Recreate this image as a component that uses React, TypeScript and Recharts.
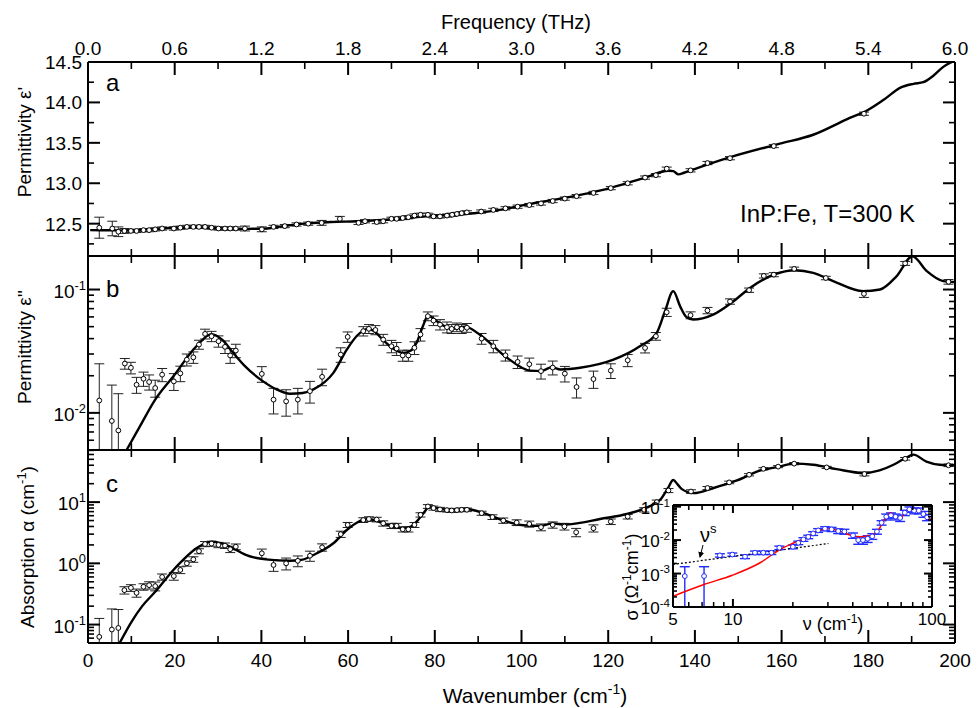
import React from 'react';
import { ComposedChart, Line, Scatter, XAxis, YAxis, ErrorBar } from 'recharts';

const FONT = '"Liberation Sans", Arial, Helvetica, sans-serif';
const W = 977;
const H = 708;

// ---------------- tick values ----------------
const wavenumberTicks = [0, 10, 20, 30, 40, 50, 60, 70, 80, 90, 100, 110, 120, 130, 140, 150, 160, 170, 180, 190, 200];
const wavenumberLabels = [0, 20, 40, 60, 80, 100, 120, 140, 160, 180, 200];
const thzPerWavenumber = 0.03;
const epsRealTicks = [12.25, 12.5, 12.75, 13, 13.25, 13.5, 13.75, 14, 14.25, 14.5];
const epsRealLabels = [12.5, 13, 13.5, 14, 14.5];
const epsImagTicks = [0.005, 0.006, 0.007, 0.008, 0.009, 0.01, 0.02, 0.03, 0.04, 0.05, 0.06, 0.07, 0.08, 0.09, 0.1];
const alphaTicks = [0.05, 0.06, 0.07, 0.08, 0.09, 0.1, 0.2, 0.3, 0.4, 0.5, 0.6, 0.7, 0.8, 0.9, 1, 2, 3, 4, 5, 6, 7, 8, 9, 10, 20, 30, 40, 50, 60, 70];
const sigmaTicks = [1e-4, 2e-4, 3e-4, 4e-4, 5e-4, 6e-4, 7e-4, 8e-4, 9e-4, 1e-3, 2e-3, 3e-3, 4e-3, 5e-3, 6e-3, 7e-3, 8e-3, 9e-3, 1e-2, 2e-2, 3e-2, 4e-2, 5e-2, 6e-2, 7e-2, 8e-2, 9e-2, 0.1];
const nuTicks = [5, 6, 7, 8, 9, 10, 20, 30, 40, 50, 60, 70, 80, 90, 100];
const nuLabels = [5, 10, 100];

// ---------------- panel a: permittivity eps' ----------------
// [wavenumber, value, error]
const pointsA: number[][] = [
  [2.6, 12.45, 0.13], [5.6, 12.44, 0.09], [7.0, 12.40, 0.06], [8.4, 12.41, 0.03], [9.9, 12.41, 0.02],
  [11.2, 12.41, 0.02], [12.8, 12.42, 0.02], [14.1, 12.42, 0.02], [15.5, 12.43, 0.02], [17.1, 12.44, 0.02],
  [19.8, 12.44, 0.02], [21.3, 12.45, 0.02], [22.8, 12.46, 0.02], [24.3, 12.46, 0.02], [25.6, 12.46, 0.02],
  [27.0, 12.46, 0.02], [28.5, 12.45, 0.02], [30.1, 12.44, 0.02], [31.6, 12.44, 0.02], [32.8, 12.44, 0.02],
  [34.1, 12.44, 0.02], [36.2, 12.44, 0.03], [40.1, 12.43, 0.03], [42.8, 12.46, 0.02], [45.4, 12.47, 0.02],
  [48.1, 12.49, 0.02], [50.8, 12.50, 0.02], [53.9, 12.51, 0.03], [58.1, 12.56, 0.03], [62.4, 12.51, 0.02],
  [63.9, 12.53, 0.02], [66.6, 12.52, 0.02], [68.1, 12.53, 0.02], [70.0, 12.56, 0.02], [71.2, 12.56, 0.02],
  [72.6, 12.57, 0.02], [73.9, 12.58, 0.02], [75.3, 12.60, 0.02], [76.7, 12.61, 0.02], [78.4, 12.61, 0.02],
  [79.7, 12.59, 0.02], [81.2, 12.59, 0.02], [82.8, 12.60, 0.02], [84.0, 12.61, 0.02], [85.1, 12.62, 0.02],
  [86.2, 12.63, 0.02], [87.4, 12.64, 0.02], [90.7, 12.65, 0.02], [93.5, 12.67, 0.02], [96.3, 12.69, 0.02],
  [99.1, 12.71, 0.02], [101.8, 12.73, 0.02], [104.5, 12.75, 0.02], [107.2, 12.78, 0.02], [110.0, 12.81, 0.02],
  [112.7, 12.84, 0.02], [116.6, 12.88, 0.02], [120.6, 12.94, 0.02], [124.5, 13.0, 0.02], [128.5, 13.07, 0.02],
  [131.0, 13.10, 0.02], [133.5, 13.18, 0.02], [139.0, 13.16, 0.02], [142.9, 13.25, 0.02], [148.1, 13.31, 0.02],
  [158.2, 13.46, 0.02], [179.0, 13.86, 0.02],
];
const fitA: number[][] = [
  [0.5, 12.42], [5, 12.418], [10, 12.415], [15, 12.43], [20, 12.45], [25, 12.455], [30, 12.445], [35, 12.435],
  [40, 12.437], [45, 12.47], [50, 12.5], [56, 12.52], [62, 12.53], [68, 12.545], [72, 12.56], [78, 12.59],
  [84, 12.61], [90, 12.635], [95, 12.67], [102, 12.745], [108, 12.8], [113.5, 12.856], [121, 12.95],
  [128.5, 13.07], [133.9, 13.155], [135, 13.15], [136.2, 13.11], [137.5, 13.13], [139.6, 13.17], [148, 13.32],
  [159.6, 13.49], [167.3, 13.6], [175, 13.79], [180, 13.91], [184, 14.05], [187.3, 14.18], [190.4, 14.23],
  [192.7, 14.25], [195, 14.33], [197.3, 14.44], [200, 14.52],
];

// ---------------- panel b: eps'' ----------------
// [wavenumber, value, lowerErr, upperErr?]
const pointsB: number[][] = [
  [2.6, 0.0126, 0.0076, 0.0124], [5.5, 0.0086, 0.0036, 0.0082], [7.0, 0.0072, 0.0022, 0.0071],
  [8.5, 0.0251, 0.0025], [9.9, 0.0232, 0.0025], [11.2, 0.0169, 0.0025], [12.8, 0.0189, 0.0025],
  [14.1, 0.0178, 0.0025], [15.5, 0.0159, 0.0025], [17.1, 0.0204, 0.0025], [19.8, 0.018, 0.0028],
  [21.3, 0.0209, 0.003], [22.8, 0.027, 0.003], [24.3, 0.0282, 0.003], [25.6, 0.0358, 0.003],
  [27.0, 0.0437, 0.004], [28.5, 0.0418, 0.004], [30.1, 0.0381, 0.004], [31.6, 0.0343, 0.004],
  [32.8, 0.0292, 0.004], [34.1, 0.032, 0.004], [40.1, 0.0207, 0.003], [42.8, 0.0128, 0.003],
  [45.7, 0.0124, 0.003], [48.4, 0.0128, 0.003], [51.2, 0.015, 0.003], [54.0, 0.0196, 0.003],
  [58.3, 0.0297, 0.004], [59.9, 0.0413, 0.004], [63.5, 0.046, 0.004], [64.8, 0.048, 0.004],
  [66.3, 0.047, 0.004], [68.1, 0.0393, 0.004], [70.0, 0.0347, 0.004], [71.2, 0.0332, 0.004],
  [72.6, 0.0292, 0.003], [73.9, 0.0292, 0.003], [75.3, 0.0337, 0.004], [76.7, 0.0432, 0.005],
  [78.4, 0.0608, 0.005], [79.7, 0.056, 0.005], [81.2, 0.052, 0.005], [82.8, 0.0495, 0.005],
  [83.9, 0.048, 0.004], [85.1, 0.0495, 0.004], [86.2, 0.048, 0.004], [87.4, 0.049, 0.004],
  [90.8, 0.040, 0.004], [93.5, 0.0347, 0.004], [96.3, 0.0293, 0.003], [99.1, 0.0259, 0.003],
  [101.8, 0.0248, 0.003], [104.5, 0.0218, 0.003], [107.2, 0.0233, 0.003], [110.0, 0.0208, 0.003],
  [112.7, 0.0162, 0.003], [116.6, 0.0188, 0.003], [120.6, 0.022, 0.003], [124.5, 0.0267, 0.003],
  [128.5, 0.0336, 0.003], [131.0, 0.0418, 0.003], [133.5, 0.0655, 0.005], [139.0, 0.0619, 0.004],
  [142.9, 0.0676, 0.004], [148.1, 0.080, 0.004], [152.5, 0.0988, 0.004], [155.9, 0.129, 0.005],
  [158.2, 0.132, 0.005], [162.9, 0.147, 0.005], [170.2, 0.124, 0.004], [179.0, 0.0923, 0.006],
  [188.5, 0.163, 0.006], [198.5, 0.1155, 0.005],
];
const fitB: number[][] = [
  [8.9, 0.005], [12, 0.0078], [15.5, 0.0128], [19.7, 0.0198], [25, 0.0347], [28.5, 0.0435], [31, 0.039],
  [33.5, 0.0306], [36.2, 0.0239], [40.4, 0.018], [43.5, 0.0155], [46.6, 0.0143], [49.5, 0.0145], [52, 0.0155],
  [56.6, 0.0211], [59.7, 0.0326], [62, 0.042], [64.5, 0.048], [66, 0.046], [68, 0.0393], [70.5, 0.033],
  [72.7, 0.0306], [74.5, 0.032], [75.8, 0.037], [77.2, 0.05], [78.5, 0.0616], [80, 0.057], [82, 0.051],
  [84, 0.048], [87, 0.05], [90.4, 0.043], [96.2, 0.0288], [102, 0.022], [104.5, 0.0218], [107, 0.0235],
  [109, 0.0225], [113.5, 0.0232], [121.2, 0.027], [127.3, 0.0347], [131.2, 0.0446], [133.1, 0.0667],
  [135, 0.097], [136.6, 0.073], [138, 0.06], [139.6, 0.057], [144.2, 0.0626], [148.9, 0.0804],
  [152.7, 0.103], [158.2, 0.132], [163.1, 0.1435], [167.3, 0.1365], [171.9, 0.117], [178.8, 0.097],
  [182.7, 0.1], [186.5, 0.128], [190.2, 0.186], [193.5, 0.141], [197.3, 0.117], [200, 0.115],
];

// ---------------- panel c: absorption alpha ----------------
const pointsC: number[][] = [
  [2.6, 0.063, 0.013, 0.063], [5.5, 0.083, 0.033, 0.097], [7.0, 0.088, 0.038, 0.088],
  [8.4, 0.365, 0.05], [9.9, 0.398, 0.05], [11.2, 0.33, 0.05], [12.8, 0.414, 0.05], [14.1, 0.44, 0.06],
  [15.5, 0.425, 0.07], [17.1, 0.6, 0.07], [19.8, 0.62, 0.09], [21.3, 0.78, 0.1], [22.8, 1.0, 0.1],
  [24.3, 1.16, 0.12], [25.6, 1.58, 0.15], [27.0, 2.07, 0.2], [28.5, 2.1, 0.2], [30.1, 2.0, 0.2],
  [31.6, 1.95, 0.2], [32.8, 1.7, 0.2], [34.1, 1.87, 0.2], [40.1, 1.46, 0.25], [42.8, 0.94, 0.2],
  [45.7, 1.0, 0.22], [48.4, 1.1, 0.22], [51.2, 1.33, 0.25], [54.0, 1.83, 0.25], [58.3, 3.0, 0.35],
  [59.9, 4.25, 0.4], [63.5, 5.1, 0.45], [64.8, 5.3, 0.45], [66.6, 5.2, 0.45], [68.1, 4.5, 0.45],
  [70.0, 4.1, 0.4], [71.2, 4.1, 0.4], [72.6, 3.6, 0.35], [73.9, 3.6, 0.35], [75.3, 4.25, 0.4],
  [76.7, 6.2, 0.5], [78.4, 8.5, 0.6], [79.7, 8.0, 0.6], [81.2, 7.6, 0.6], [82.8, 7.4, 0.5],
  [83.9, 7.3, 0.5], [85.1, 7.4, 0.5], [86.2, 7.5, 0.5], [87.4, 7.5, 0.5], [90.8, 6.6, 0.5],
  [93.3, 5.7, 0.5], [95.8, 5.0, 0.5], [98.9, 4.64, 0.5], [101.8, 4.4, 0.5], [104.5, 3.9, 0.5],
  [107.2, 4.25, 0.5], [109.9, 4.0, 0.5], [112.6, 3.22, 0.5], [116.6, 3.75, 0.5], [120.6, 4.8, 0.5],
  [124.5, 5.8, 0.5], [128.3, 7.5, 0.6], [131.2, 10, 0.8], [133.9, 15.5, 1.2], [139.1, 14.9, 1.0],
  [142.9, 17, 1.0], [147.9, 21, 1.0], [152.5, 28, 1.2], [155.8, 35, 1.5], [159.2, 38, 1.5],
  [162.9, 42.5, 1.8], [170.4, 36.9, 1.5], [179.1, 28.8, 2], [188.5, 51, 2.5], [198.5, 40, 2],
];
const fitC: number[][] = [
  [7.3, 0.05], [10, 0.11], [12.5, 0.2], [15.5, 0.343], [19.7, 0.78], [22, 1.15], [25, 1.76], [28.5, 2.26],
  [31, 2.1], [33.5, 1.76], [36.4, 1.37], [41, 1.16], [46.6, 1.1], [49.5, 1.15], [52, 1.37], [56.6, 2.13],
  [59.7, 3.5], [62, 4.6], [64.3, 5.3], [66, 5.1], [68.1, 4.5], [70.5, 3.95], [72.7, 3.75], [74.5, 4.0],
  [75.8, 4.8], [77.3, 6.5], [78.9, 8.5], [80.5, 8.0], [82.5, 7.5], [84.5, 7.5], [86.9, 7.8], [88.5, 7.5],
  [90.8, 6.8], [95.8, 5.0], [101.2, 4.14], [104.3, 4.1], [107.2, 4.5], [109.9, 4.3], [112.8, 4.5],
  [118.1, 5.3], [124.3, 6.4], [128.9, 8.2], [132.3, 11.6], [133.8, 17], [135, 23], [136, 19.5], [137, 16.3],
  [139.7, 14], [144.3, 17], [149.7, 22.6], [155, 32.6], [159.5, 38], [162.7, 42.5], [167.3, 40.8],
  [172.7, 34.6], [178.8, 29.9], [182.6, 33], [185.8, 40.8], [188.5, 52], [190.4, 59.6], [193.4, 46],
  [196.5, 40.8], [200, 40],
];

// ---------------- inset: conductivity sigma vs nu ----------------
const pointsSigma: number[][] = [
  [5.73, 8.4e-4, 7.4e-4, 7.6e-4], [7.16, 8.4e-4, 7.4e-4, 7.6e-4], [8.6, 3.5e-3, 4e-4], [9.93, 3.7e-3, 4e-4],
  [11.5, 3.2e-3, 4e-4], [12.9, 4.2e-3, 5e-4], [14.2, 4.2e-3, 5e-4], [15.6, 4.2e-3, 5e-4], [17.1, 5.9e-3, 7e-4],
  [20, 6.3e-3, 8e-4], [21.3, 8.3e-3, 1e-3], [22.6, 1.05e-2, 1.3e-3], [23.9, 1.25e-2, 1.5e-3],
  [25.3, 1.58e-2, 2e-3], [26.8, 1.95e-2, 2.5e-3], [29, 2.2e-2, 3e-3], [31.3, 2.1e-2, 3e-3],
  [33.8, 1.86e-2, 3e-3], [36.3, 1.8e-2, 3e-3], [40.1, 1.38e-2, 2.5e-3], [42.6, 1.0e-2, 2.5e-3],
  [45, 1.0e-2, 2.5e-3], [47.5, 1.1e-2, 2.5e-3], [50.1, 1.3e-2, 2.5e-3], [52.9, 1.8e-2, 3e-3],
  [55.8, 3.3e-2, 5e-3], [58.9, 5e-2, 1e-2], [62.2, 5.5e-2, 1e-2], [65.6, 5e-2, 1e-2], [69.2, 4.6e-2, 1e-2],
  [73, 6.6e-2, 1.2e-2], [77, 8.3e-2, 1.5e-2], [81.3, 7.6e-2, 1.5e-2], [85.8, 7.6e-2, 1.5e-2],
  [90.5, 6e-2, 1.2e-2], [94.5, 4.8e-2, 1e-2],
];
const fitSigma: number[][] = [
  [5, 2.1e-4], [7.16, 4.7e-4], [9.93, 8.9e-4], [13.7, 2.1e-3], [17.3, 5.3e-3], [20.3, 8.3e-3], [23.6, 1.25e-2],
  [26.3, 1.8e-2], [29.4, 2.2e-2], [33, 2e-2], [39, 1.4e-2], [43.3, 1.25e-2], [48.5, 1.35e-2], [53.8, 2e-2],
  [57.8, 4.2e-2], [61.8, 6.6e-2], [65.6, 5e-2], [69.2, 4.5e-2], [73, 6.6e-2], [76.5, 8.4e-2], [79.8, 7.3e-2],
  [83.3, 8.5e-2], [88.9, 6.9e-2], [94.5, 4.8e-2], [100, 4.2e-2],
];
const powerLawSigma: number[][] = [[5, 1.87e-3], [30.2, 7.9e-3]];

// ---------------- table builders ----------------
const toLine = (arr: number[][]) => arr.map(([x, y]) => ({ x, y }));
const toPoints = (arr: number[][]) =>
  arr.map(([x, y, lo, hi]) => ({ x, y, err: [lo, hi === undefined ? lo : hi] }));

// ---------------- tick rendering ----------------
type Side = 'bottom' | 'top' | 'left' | 'right';
const near = (a: number, b: number) => Math.abs(a - b) < 1e-9 * Math.max(1, Math.abs(b));
const inList = (list: number[]) => (v: number) => list.some((t) => near(v, t));
const isDecade = (v: number) => Math.abs(Math.log10(v) - Math.round(Math.log10(v))) < 1e-6;

function makeTick(
  side: Side,
  isMajor: (v: number) => boolean,
  majorLen: number,
  minorLen: number,
  label?: (v: number, x: number, y: number) => React.ReactNode,
) {
  return (props: any) => {
    const { x, y, payload } = props;
    const v = payload.value;
    const major = isMajor(v);
    const len = major ? majorLen : minorLen;
    let x2 = x;
    let y2 = y;
    if (side === 'bottom') y2 = y - len;
    else if (side === 'top') y2 = y + len;
    else if (side === 'left') x2 = x + len;
    else x2 = x - len;
    return (
      <g>
        <line x1={x} y1={y} x2={x2} y2={y2} stroke="#000" strokeWidth={major ? 2 : 1.6} />
        {label && major ? label(v, x, y) : null}
      </g>
    );
  };
}

const txt = (x: number, y: number, s: React.ReactNode, anchor: string, size: number) => (
  <text x={x} y={y} textAnchor={anchor as any} fontFamily={FONT} fontSize={size} fill="#000">
    {s}
  </text>
);
const logLabel = (x: number, y: number, v: number, size: number) => (
  <text x={x} y={y} textAnchor="end" fontFamily={FONT} fontSize={size} fill="#000">
    10
    <tspan dy={-size * 0.42} fontSize={size * 0.68}>
      {String(Math.round(Math.log10(v)))}
    </tspan>
  </text>
);

const isWnMajor = inList(wavenumberLabels);
const bottomTickLabeled = makeTick('bottom', isWnMajor, 13, 7, (v, x, y) => txt(x, y + 24, String(v), 'middle', 19));
const bottomTickPlain = makeTick('bottom', isWnMajor, 13, 7);
const topTickLabeled = makeTick('top', isWnMajor, 13, 7, (v, x, y) =>
  txt(x, y - 7, (v * thzPerWavenumber).toFixed(1), 'middle', 19),
);
const topTickPlain = makeTick('top', isWnMajor, 13, 7);

const isEpsMajor = inList(epsRealLabels);
const leftTickA = makeTick('left', isEpsMajor, 12, 6, (v, x, y) => txt(x - 6, y + 7, v.toFixed(1), 'end', 19));
const rightTickA = makeTick('right', isEpsMajor, 12, 6);
const leftTickLog = makeTick('left', isDecade, 12, 6, (v, x, y) => logLabel(x - 2, y + 8, v, 19));
const rightTickLog = makeTick('right', isDecade, 12, 6);

const isNuMajor = inList([10, 100]);
const isNuLabel = inList(nuLabels);
const insetBottomTick = (props: any) => {
  const { x, y, payload } = props;
  const v = payload.value;
  const major = isNuMajor(v);
  const len = major ? 8 : 5;
  return (
    <g>
      <line x1={x} y1={y} x2={x} y2={y - len} stroke="#000" strokeWidth={major ? 2 : 1.5} />
      {isNuLabel(v) ? txt(x, y + 18, String(v), 'middle', 17) : null}
    </g>
  );
};
const insetTopTick = makeTick('top', isNuMajor, 8, 5);
const insetLeftTick = makeTick('left', isDecade, 8, 4, (v, x, y) => logLabel(x - 3, y + 7, v, 17));
const insetRightTick = makeTick('right', isDecade, 8, 4);

// ---------------- layout helpers ----------------
const LEFT_W = 60;
const RIGHT_W = 10;
const AX_H = 10;
const marginFor = (l: number, t: number, r: number, b: number) => ({
  left: l - LEFT_W,
  top: t - AX_H,
  right: W - r - RIGHT_W,
  bottom: H - b - AX_H,
});
const PL = 88;
const PR = 955;
const axisLine = { stroke: '#000', strokeWidth: 2 };

const openCircle = (color: string) => (p: any) =>
  p.cx == null || p.cy == null ? <g /> : <circle cx={p.cx} cy={p.cy} r={2.4} fill="#fff" stroke={color} strokeWidth={1} />;

const layer: React.CSSProperties = { position: 'absolute', left: 0, top: 0, width: W, height: H };

function Frame(props: {
  top: number;
  bottom: number;
  yDomain: number[];
  yScale: 'linear' | 'log';
  yTicks: number[];
  leftTick: any;
  rightTick: any;
  topTick: any;
  bottomTick: any;
  points: any[];
  fit: any[];
}) {
  const { top, bottom, yDomain, yScale, yTicks, leftTick, rightTick, topTick, bottomTick, points, fit } = props;
  return (
    <div style={layer}>
      <ComposedChart width={W} height={H} margin={marginFor(PL, top, PR, bottom)}>
        <XAxis
          dataKey="x"
          type="number"
          domain={[0, 200]}
          allowDataOverflow
          ticks={wavenumberTicks}
          interval={0}
          tickSize={0}
          tickMargin={0}
          height={AX_H}
          tick={bottomTick}
          tickLine={false}
          axisLine={axisLine}
        />
        <XAxis
          xAxisId="top"
          orientation="top"
          dataKey="x"
          type="number"
          domain={[0, 200]}
          allowDataOverflow
          ticks={wavenumberTicks}
          interval={0}
          tickSize={0}
          tickMargin={0}
          height={AX_H}
          tick={topTick}
          tickLine={false}
          axisLine={axisLine}
        />
        <YAxis
          type="number"
          scale={yScale}
          domain={yDomain}
          allowDataOverflow
          ticks={yTicks}
          interval={0}
          tickSize={0}
          tickMargin={0}
          width={LEFT_W}
          tick={leftTick}
          tickLine={false}
          axisLine={axisLine}
        />
        <YAxis
          yAxisId="right"
          orientation="right"
          type="number"
          scale={yScale}
          domain={yDomain}
          allowDataOverflow
          ticks={yTicks}
          interval={0}
          tickSize={0}
          tickMargin={0}
          width={RIGHT_W}
          tick={rightTick}
          tickLine={false}
          axisLine={axisLine}
        />
        <Scatter data={points} dataKey="y" shape={openCircle('#000')} isAnimationActive={false}>
          <ErrorBar dataKey="err" direction="y" width={5} stroke="#222" strokeWidth={1} />
        </Scatter>
        <Line
          data={fit}
          dataKey="y"
          type="monotone"
          stroke="#000"
          strokeWidth={2.4}
          dot={false}
          activeDot={false}
          isAnimationActive={false}
        />
      </ComposedChart>
    </div>
  );
}

function Inset() {
  const L = 673;
  const T = 505;
  const R = 932;
  const B = 607;
  return (
    <div style={layer}>
      <ComposedChart width={W} height={H} margin={marginFor(L, T, R, B)}>
        <XAxis
          dataKey="x"
          type="number"
          scale="log"
          domain={[5, 100]}
          allowDataOverflow
          ticks={nuTicks}
          interval={0}
          tickSize={0}
          tickMargin={0}
          height={AX_H}
          tick={insetBottomTick}
          tickLine={false}
          axisLine={axisLine}
        />
        <XAxis
          xAxisId="top"
          orientation="top"
          dataKey="x"
          type="number"
          scale="log"
          domain={[5, 100]}
          allowDataOverflow
          ticks={nuTicks}
          interval={0}
          tickSize={0}
          tickMargin={0}
          height={AX_H}
          tick={insetTopTick}
          tickLine={false}
          axisLine={axisLine}
        />
        <YAxis
          type="number"
          scale="log"
          domain={[1e-4, 0.112]}
          allowDataOverflow
          ticks={sigmaTicks}
          interval={0}
          tickSize={0}
          tickMargin={0}
          width={LEFT_W}
          tick={insetLeftTick}
          tickLine={false}
          axisLine={axisLine}
        />
        <YAxis
          yAxisId="right"
          orientation="right"
          type="number"
          scale="log"
          domain={[1e-4, 0.112]}
          allowDataOverflow
          ticks={sigmaTicks}
          interval={0}
          tickSize={0}
          tickMargin={0}
          width={RIGHT_W}
          tick={insetRightTick}
          tickLine={false}
          axisLine={axisLine}
        />
        <Scatter data={toPoints(pointsSigma)} dataKey="y" shape={openCircle('#1f2bff')} isAnimationActive={false}>
          <ErrorBar dataKey="err" direction="y" width={5} stroke="#1f2bff" strokeWidth={1.4} />
        </Scatter>
        <Line
          data={toLine(powerLawSigma)}
          dataKey="y"
          type="linear"
          stroke="#000"
          strokeWidth={1.2}
          strokeDasharray="2 2"
          dot={false}
          activeDot={false}
          isAnimationActive={false}
        />
        <Line
          data={toLine(fitSigma)}
          dataKey="y"
          type="monotone"
          stroke="#ff0000"
          strokeWidth={1.5}
          dot={false}
          activeDot={false}
          isAnimationActive={false}
        />
      </ComposedChart>
    </div>
  );
}

function Overlay() {
  return (
    <svg style={{ ...layer, pointerEvents: 'none' }} width={W} height={H}>
      <defs>
        <marker id="arrowhead" markerWidth="6" markerHeight="6" refX="5" refY="3" orient="auto">
          <path d="M0,0 L6,3 L0,6 z" fill="#000" />
        </marker>
      </defs>
      <g fontFamily={FONT} fill="#000">
        <text x={516} y={29} fontSize={20} textAnchor="middle">
          Frequency (THz)
        </text>
        <text x={535} y={703} fontSize={21} textAnchor="middle">
          Wavenumber (cm
          <tspan dy={-9} fontSize={14}>-1</tspan>
          <tspan dy={9}>)</tspan>
        </text>
        <text transform="translate(31,142) rotate(-90)" fontSize={19} textAnchor="middle">
          Permittivity ε'
        </text>
        <text transform="translate(31,347) rotate(-90)" fontSize={19} textAnchor="middle">
          Permittivity ε''
        </text>
        <text transform="translate(34,547) rotate(-90)" fontSize={19} textAnchor="middle">
          Absorption α (cm
          <tspan dy={-8} fontSize={13}>-1</tspan>
          <tspan dy={8}>)</tspan>
        </text>
        <text x={106} y={91} fontSize={24}>a</text>
        <text x={106} y={297} fontSize={24}>b</text>
        <text x={106} y={492} fontSize={24}>c</text>
        <text x={740} y={222} fontSize={24}>InP:Fe, T=300 K</text>
        <text transform="translate(638,577) rotate(-90)" fontSize={18} textAnchor="middle">
          σ (Ω
          <tspan dy={-7} fontSize={12}>-1</tspan>
          <tspan dy={7}>cm</tspan>
          <tspan dy={-7} fontSize={12}>-1</tspan>
          <tspan dy={7}>)</tspan>
        </text>
        <text x={833} y={630} fontSize={18} textAnchor="middle">
          ν (cm
          <tspan dy={-7} fontSize={12}>-1</tspan>
          <tspan dy={7}>)</tspan>
        </text>
        <text x={700} y={542} fontSize={20}>
          ν<tspan dy={-9} fontSize={13}>s</tspan>
        </text>
        <line x1={703} y1={545} x2={700} y2={557} stroke="#000" strokeWidth={1} markerEnd="url(#arrowhead)" />
      </g>
    </svg>
  );
}

export default function App() {
  return (
    <div style={{ position: 'absolute', left: 0, top: 0, width: W, height: H, background: '#fff', overflow: 'hidden' }}>
      <Frame
        top={62}
        bottom={256}
        yDomain={[12.1, 14.5]}
        yScale="linear"
        yTicks={epsRealTicks}
        leftTick={leftTickA}
        rightTick={rightTickA}
        topTick={topTickLabeled}
        bottomTick={bottomTickPlain}
        points={toPoints(pointsA)}
        fit={toLine(fitA)}
      />
      <Frame
        top={256}
        bottom={450}
        yDomain={[0.005, 0.187]}
        yScale="log"
        yTicks={epsImagTicks}
        leftTick={leftTickLog}
        rightTick={rightTickLog}
        topTick={topTickPlain}
        bottomTick={bottomTickPlain}
        points={toPoints(pointsB)}
        fit={toLine(fitB)}
      />
      <Frame
        top={450}
        bottom={643}
        yDomain={[0.05, 71]}
        yScale="log"
        yTicks={alphaTicks}
        leftTick={leftTickLog}
        rightTick={rightTickLog}
        topTick={topTickPlain}
        bottomTick={bottomTickLabeled}
        points={toPoints(pointsC)}
        fit={toLine(fitC)}
      />
      <Inset />
      <Overlay />
    </div>
  );
}
